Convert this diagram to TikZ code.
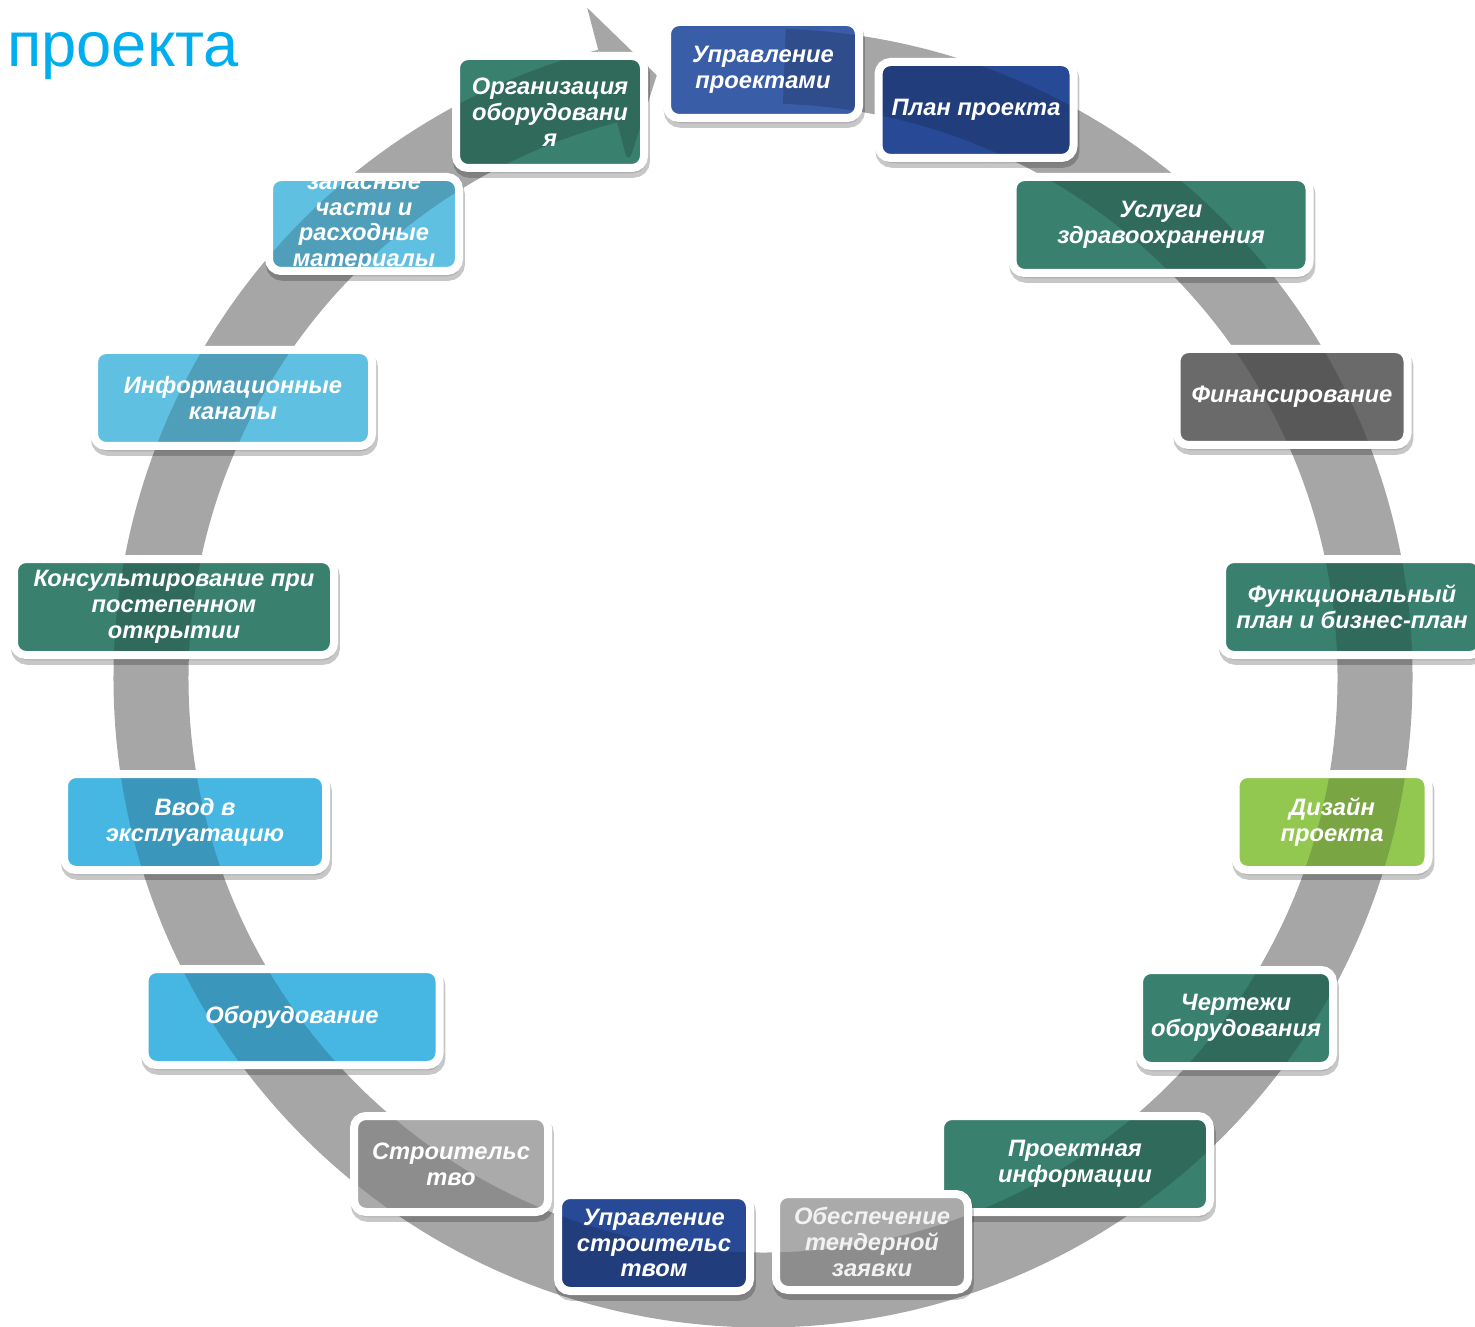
\documentclass[tikz,border=0pt]{standalone}
\usepackage{fontspec}
\setmainfont{Liberation Sans}
\usetikzlibrary{shadows}
\definecolor{ring_gray}{RGB}{166,166,166}
\definecolor{title_blue}{RGB}{0,174,239}
\definecolor{bx_green}{RGB}{58,128,110}
\definecolor{bx_blue}{RGB}{58,93,168}
\definecolor{bx_navy}{RGB}{40,74,150}
\definecolor{bx_dgray}{RGB}{106,106,106}
\definecolor{bx_lgray}{RGB}{170,170,170}
\definecolor{bx_lime}{RGB}{146,200,80}
\definecolor{bx_sky}{RGB}{70,182,226}
\definecolor{bx_pale}{RGB}{96,192,226}
\newcommand{\ringshape}[1]{%
  \draw[#1,line width=1.5cm] (c) ++(88:12.24) arc[start angle=88,end angle=-255.3,radius=12.24];
  \fill[#1] (c) +(104.7:13.86) -- +(100:12.24) -- +(104.7:10.62) -- cycle;}
\newcommand{\boxfont}{\fontsize{13.5}{14.7}\selectfont\bfseries\itshape}
\tikzstyle{bx}=[rectangle,rounded corners=0.24cm,draw=white,line width=0.16cm,
  inner sep=0pt,minimum height=1.92cm,align=center,text=white,font=\boxfont,
  drop shadow={shadow xshift=0.8pt,shadow yshift=-3pt,opacity=0.22,
    draw=black,line width=0.18cm},
  path picture={\ringshape{black,opacity=0.17}}]
\tikzstyle{gb}=[bx,fill=bx_green]
\tikzstyle{bb}=[bx,fill=bx_blue]
\tikzstyle{nb}=[bx,fill=bx_navy]
\tikzstyle{db}=[bx,fill=bx_dgray]
\tikzstyle{lb}=[bx,fill=bx_lgray]
\tikzstyle{mb}=[bx,fill=bx_lime]
\tikzstyle{sb}=[bx,fill=bx_sky]
\tikzstyle{pb}=[bx,fill=bx_pale]
\tikzstyle{none}=[]

\begin{document}
\begin{tikzpicture}
    \useasboundingbox (0,0) rectangle (29.5,-26.54);
    \coordinate (c) at (15.26,-13.56);
    % ring arrow
    \ringshape{ring_gray}
    \node [style=none, anchor=base west, inner sep=0pt, text=title_blue,
      font=\fontsize{36}{40}\selectfont] (t) at (0.14,-1.34) {проекта};
    % steps
    \node [style=gb, minimum width=3.76cm, minimum height=2.24cm] (0) at (11.00,-2.24) {Организация\\оборудовани\\я};
    \node [style=bb, minimum width=3.84cm] (1) at (15.26,-1.40) {Управление\\проектами};
    \node [style=nb, minimum width=3.90cm] (2) at (19.52,-2.20) {План проекта};
    \node [style=gb, minimum width=5.94cm] (3) at (23.22,-4.50) {Услуги\\здравоохранения};
    \node [style=db, minimum width=4.62cm] (4) at (25.84,-7.94) {Финансирование};
    \node [style=gb, minimum width=5.20cm] (5) at (27.04,-12.14) {Функциональный\\план и бизнес-план};
    \node [style=mb, minimum width=3.86cm] (6) at (26.64,-16.44) {Дизайн\\проекта};
    \node [style=gb, minimum width=3.88cm] (7) at (24.72,-20.36) {Чертежи\\оборудования};
    \node [style=gb, minimum width=5.40cm] (8) at (21.50,-23.28) {Проектная\\информации};
    \node [style=lb, minimum width=3.84cm, text=white!90!gray] (9) at (17.44,-24.84) {Обеспечение\\тендерной\\заявки};
    \node [style=nb, minimum width=3.84cm] (10) at (13.08,-24.86) {Управление\\строительс\\твом};
    \node [style=lb, minimum width=3.88cm] (11) at (9.02,-23.28) {Строительс\\тво};
    \node [style=sb, minimum width=5.90cm] (12) at (5.84,-20.34) {Оборудование};
    \node [style=sb, minimum width=5.24cm] (13) at (3.90,-16.44) {Ввод в\\эксплуатацию};
    \node [style=gb, minimum width=6.40cm] (14) at (3.48,-12.14) {Консультирование при\\постепенном\\открытии};
    \node [style=pb, minimum width=5.56cm] (15) at (4.66,-7.96) {Информационные\\каналы};
    \node [style=pb, minimum width=3.80cm, minimum height=1.88cm,
      path picture={\ringshape{black,opacity=0.17}
        \node [text=white, align=center, font=\boxfont] at (path picture bounding box.center)
          {запасные\\части и\\расходные\\материалы};}] (16) at (7.28,-4.48) {};
\end{tikzpicture}
\end{document}
